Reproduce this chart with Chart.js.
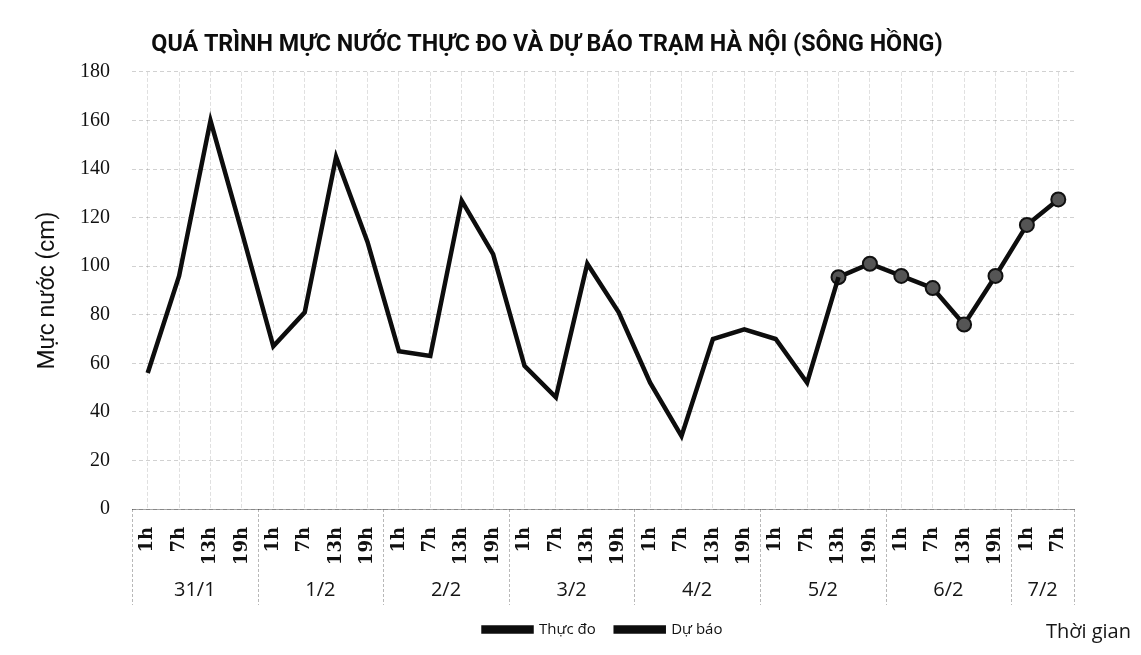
<!DOCTYPE html>
<html>
<head>
<meta charset="utf-8">
<script src="https://cdn.jsdelivr.net/npm/chart.js@4.4.1/dist/chart.umd.min.js"></script>
<style>
  html, body { margin: 0; padding: 0; background: #ffffff; }
  #wrap { width: 1141px; height: 655px; }
</style>
</head>
<body>
<div id="wrap"><canvas id="c" width="1141" height="655"></canvas></div>
<script>
// ---- Data ----
const days = ['31/1', '1/2', '2/2', '3/2', '4/2', '5/2', '6/2', '7/2'];
const dayCounts = [4, 4, 4, 4, 4, 4, 4, 2];
const hourLabels = ['1h','7h','13h','19h','1h','7h','13h','19h','1h','7h','13h','19h','1h','7h','13h','19h','1h','7h','13h','19h','1h','7h','13h','19h','1h','7h','13h','19h','1h','7h'];
const measured = [56, 96, 160, 114, 67, 81, 145, 110, 65, 63, 127, 105, 59, 46, 101, 81, 52, 30, 70, 74, 70, 52, 95.5,
                  null, null, null, null, null, null, null];
const forecast = [null, null, null, null, null, null, null, null, null, null, null, null, null, null, null, null,
                  null, null, null, null, null, null, 95.5, 101, 96, 91, 76, 96, 117, 127.5];
const yTicks = [0, 20, 40, 60, 80, 100, 120, 140, 160, 180];
const titleText = 'QUÁ TRÌNH MỰC NƯỚC THỰC ĐO VÀ DỰ BÁO TRẠM HÀ NỘI (SÔNG HỒNG)';
const yTitle = 'Mực nước (cm)';
const xTitle = 'Thời gian';
const seriesNames = ['Thực đo', 'Dự báo'];

// ---- Plugin: day group labels, separators, x title ----
const groupPlugin = {
  id: 'groupPlugin',
  afterDraw(chart) {
    const ctx = chart.ctx;
    const xs = chart.scales.x;
    const area = chart.chartArea;
    const step = xs.getPixelForValue(1) - xs.getPixelForValue(0);
    ctx.save();
    ctx.strokeStyle = 'rgba(0,0,0,0.28)';
    ctx.lineWidth = 1;
    ctx.setLineDash([3, 2]);
    const lineBottom = area.bottom + 96;
    let start = 0;
    const bounds = [start];
    dayCounts.forEach(n => { start += n; bounds.push(start); });
    bounds.forEach(b => {
      const x = Math.round(xs.getPixelForValue(b) - step / 2) + 0.5;
      ctx.beginPath();
      ctx.moveTo(x, area.bottom);
      ctx.lineTo(x, lineBottom);
      ctx.stroke();
    });
    ctx.setLineDash([]);
    ctx.fillStyle = '#151515';
    ctx.font = '20px "Open Sans", "Liberation Sans", sans-serif';
    ctx.textAlign = 'center';
    ctx.textBaseline = 'middle';
    for (let i = 0; i < days.length; i++) {
      const a = xs.getPixelForValue(bounds[i]);
      const b = xs.getPixelForValue(bounds[i + 1] - 1);
      ctx.fillText(days[i], (a + b) / 2, area.bottom + 81);
    }
    ctx.textAlign = 'right';
    ctx.fillText(xTitle, chart.width - 10, 632);
    ctx.restore();
  }
};

new Chart(document.getElementById('c'), {
  type: 'line',
  data: {
    labels: hourLabels,
    datasets: [
      {
        label: seriesNames[0],
        data: measured,
        borderColor: '#0d0d0d',
        backgroundColor: '#0d0d0d',
        borderWidth: 4.5,
        pointRadius: 0,
        tension: 0,
        spanGaps: false
      },
      {
        label: seriesNames[1],
        data: forecast,
        borderColor: '#0d0d0d',
        backgroundColor: '#0d0d0d',
        borderWidth: 4.5,
        pointRadius: 7,
        pointBackgroundColor: '#555555',
        pointBorderColor: '#111111',
        pointBorderWidth: 2,
        tension: 0
      }
    ]
  },
  options: {
    responsive: false,
    animation: false,
    layout: { padding: { left: 20, right: 67, top: 31, bottom: 8 } },
    plugins: {
      title: {
        display: true,
        text: titleText,
        color: '#0d0d0d',
        font: { family: 'Roboto, "Open Sans", sans-serif', size: 23.3, weight: 'bold' },
        padding: { top: 0, bottom: 13 }
      },
      legend: {
        position: 'bottom',
        fullSize: false,
        labels: {
          boxWidth: 48,
          boxHeight: 4,
          color: '#111',
          font: { family: '"Open Sans", "Liberation Sans", sans-serif', size: 15 },
          padding: 20
        }
      },
      tooltip: { enabled: false }
    },
    scales: {
      x: {
        offset: true,
        grid: {
          display: true,
          offset: false,
          color: 'rgba(0,0,0,0.12)',
          drawTicks: false
        },
        border: { display: true, color: 'rgba(0,0,0,0.35)', dash: [4, 2] },
        ticks: {
          autoSkip: false,
          minRotation: 90,
          maxRotation: 90,
          padding: 18,
          color: '#111',
          font: { family: '"DejaVu Serif", serif', size: 18, weight: 'bold' }
        },
        afterFit(scale) { scale.height = 93; }
      },
      y: {
        min: 0,
        max: 180,
        afterBuildTicks(scale) { scale.ticks = yTicks.map(v => ({ value: v })); },
        grid: {
          color: 'rgba(0,0,0,0.18)',
          drawTicks: false
        },
        border: { display: false, dash: [4, 3] },
        ticks: {
          padding: 22,
          color: '#111',
          font: { family: '"Liberation Serif", serif', size: 20 }
        },
        title: {
          display: true,
          text: yTitle,
          color: '#111',
          font: { family: 'Roboto, "Open Sans", sans-serif', size: 23 },
          padding: { top: 14, bottom: 0 }
        },
        afterFit(scale) { scale.width = 112; }
      }
    }
  },
  plugins: [groupPlugin]
});
</script>
</body>
</html>
